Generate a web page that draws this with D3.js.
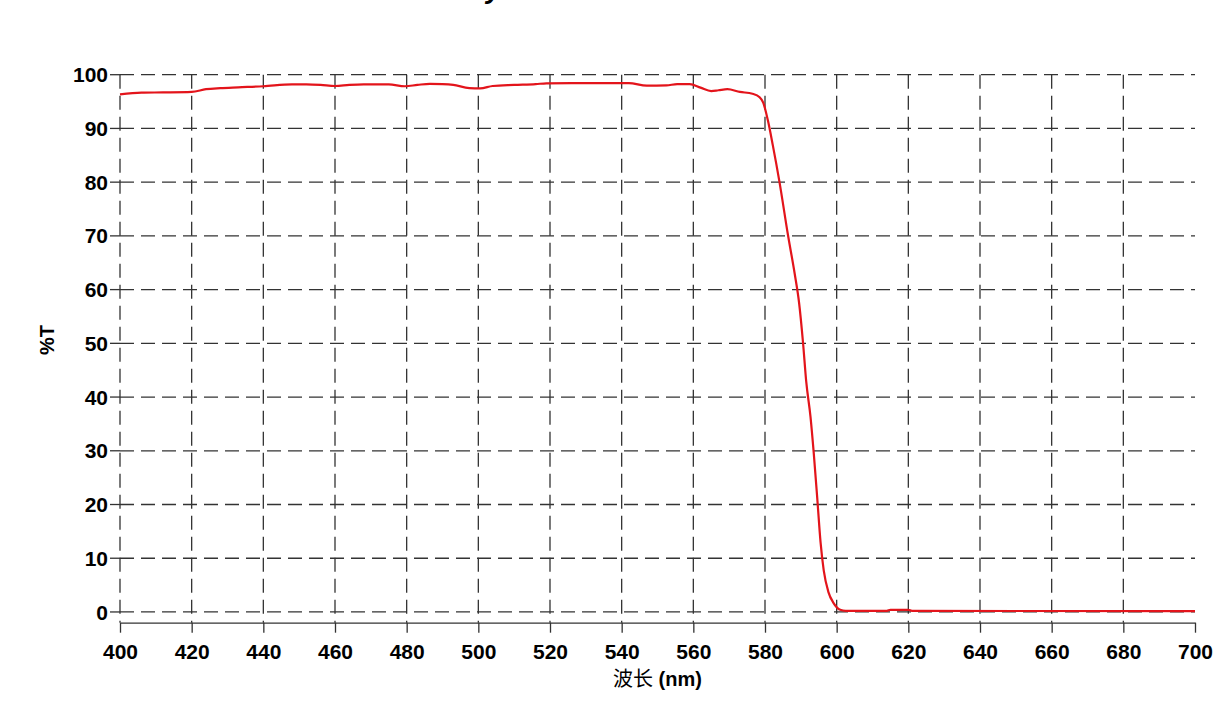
<!DOCTYPE html>
<html>
<head>
<meta charset="utf-8">
<script src="https://cdn.jsdelivr.net/npm/d3@7"></script>
<style>
  html, body { margin: 0; padding: 0; background: #fff; }
  svg { display: block; }
</style>
</head>
<body>
<svg id="chart" width="1228" height="701"></svg>
<script>
// ---- data ----
const wavelength = [400, 406, 412, 420, 424, 428, 433, 440, 448, 452, 456, 460, 464, 468, 475, 479.5, 483, 486.5, 490, 493, 497.5, 500.5, 504, 510, 516, 519, 526, 542, 547, 552.5, 555.5, 559, 562, 565, 567, 569.5, 573, 576.5, 578.5, 579.5, 580.8, 582.2, 584.0, 586.4, 588.3, 589.5, 590.6, 591.5, 592.7, 593.6, 594.6, 595.5, 596.4, 597.7, 599.1, 601, 602.5, 614, 615, 620, 621, 700];
const transmittance = [96.35, 96.65, 96.7, 96.8, 97.3, 97.5, 97.65, 97.85, 98.2, 98.2, 98.1, 97.9, 98.1, 98.2, 98.2, 97.85, 98.1, 98.3, 98.25, 98.1, 97.5, 97.45, 97.9, 98.1, 98.25, 98.4, 98.45, 98.45, 97.95, 98.0, 98.25, 98.25, 97.6, 96.95, 97.1, 97.3, 96.8, 96.45, 95.8, 94.8, 91.5, 86.8, 80.2, 70.2, 62.9, 57.6, 50.2, 42.9, 36.3, 29.6, 21.0, 13.0, 7.7, 3.7, 1.7, 0.4, 0.2, 0.2, 0.4, 0.4, 0.2, 0.15];
const xTicks = [400, 420, 440, 460, 480, 500, 520, 540, 560, 580, 600, 620, 640, 660, 680, 700];
const yTicks = [0, 10, 20, 30, 40, 50, 60, 70, 80, 90, 100];
const xTitle = "波长";
const xUnit = " (nm)";
const yTitle = "%T";

// ---- chart ----
const svg = d3.select("#chart");
const x = d3.scaleLinear().domain([400, 700]).range([120, 1195]);
const y = d3.scaleLinear().domain([-2, 100]).range([622.7, 74.7]);

const gridColor = "#333";
const dash = "14,7";
const font = "Liberation Sans, Arial, sans-serif";

// cut-off title fragment at the very top
svg.append("text")
  .attr("x", 486).attr("y", -2)
  .attr("font-family", font)
  .attr("font-weight", "bold").attr("font-style", "italic")
  .attr("font-size", 28).attr("fill", "#000")
  .text("y");

// horizontal grid lines (dashed) + solid tick stubs
yTicks.forEach(t => {
  svg.append("line")
    .attr("x1", x(400)).attr("x2", x(700))
    .attr("y1", y(t)).attr("y2", y(t))
    .attr("stroke", gridColor).attr("stroke-width", 1.3)
    .attr("stroke-dasharray", dash);
  svg.append("line")
    .attr("x1", x(400) - 10).attr("x2", x(400))
    .attr("y1", y(t)).attr("y2", y(t))
    .attr("stroke", gridColor).attr("stroke-width", 1.3);
  svg.append("text")
    .attr("x", x(400) - 12).attr("y", y(t))
    .attr("dy", "0.36em")
    .attr("text-anchor", "end")
    .attr("font-family", font)
    .attr("font-weight", "bold").attr("font-size", 21)
    .attr("fill", "#000")
    .text(t);
});

// vertical grid lines (dashed) except at 700
xTicks.filter(t => t < 700).forEach(t => {
  svg.append("line")
    .attr("x1", x(t)).attr("x2", x(t))
    .attr("y1", y(100)).attr("y2", y(-2))
    .attr("stroke", gridColor).attr("stroke-width", 1.3)
    .attr("stroke-dasharray", dash);
});

// bottom axis
const xAxis = d3.axisBottom(x).tickValues(xTicks).tickSize(10).tickPadding(11).tickSizeOuter(0);
const gx = svg.append("g").attr("transform", `translate(0,${y(-2)})`).call(xAxis);
gx.select(".domain").attr("stroke", gridColor).attr("stroke-width", 1.3);
gx.selectAll(".tick line").attr("stroke", gridColor).attr("stroke-width", 1.3);
gx.selectAll(".tick text")
  .attr("font-family", font)
  .attr("font-weight", "bold").attr("font-size", 21).attr("fill", "#000");

// axis titles
const xt = svg.append("text")
  .attr("x", (x(400) + x(700)) / 2).attr("y", 686)
  .attr("text-anchor", "middle")
  .attr("font-size", 20).attr("fill", "#000");
xt.append("tspan")
  .attr("font-family", "Noto Sans CJK SC, sans-serif")
  .text(xTitle);
xt.append("tspan")
  .attr("font-family", font)
  .attr("font-weight", "bold")
  .text(xUnit);

svg.append("text")
  .attr("transform", `translate(54,340) rotate(-90)`)
  .attr("text-anchor", "middle")
  .attr("font-family", font)
  .attr("font-weight", "bold").attr("font-size", 20).attr("fill", "#000")
  .text(yTitle);

// transmittance curve
const pts = wavelength.map((w, i) => [w, transmittance[i]]);
const line = d3.line()
  .x(d => x(d[0])).y(d => y(d[1]))
  .curve(d3.curveMonotoneX);
svg.append("path")
  .datum(pts)
  .attr("d", line)
  .attr("fill", "none")
  .attr("stroke", "#e3141b")
  .attr("stroke-width", 2.2)
  .attr("stroke-linejoin", "round");
</script>
</body>
</html>
